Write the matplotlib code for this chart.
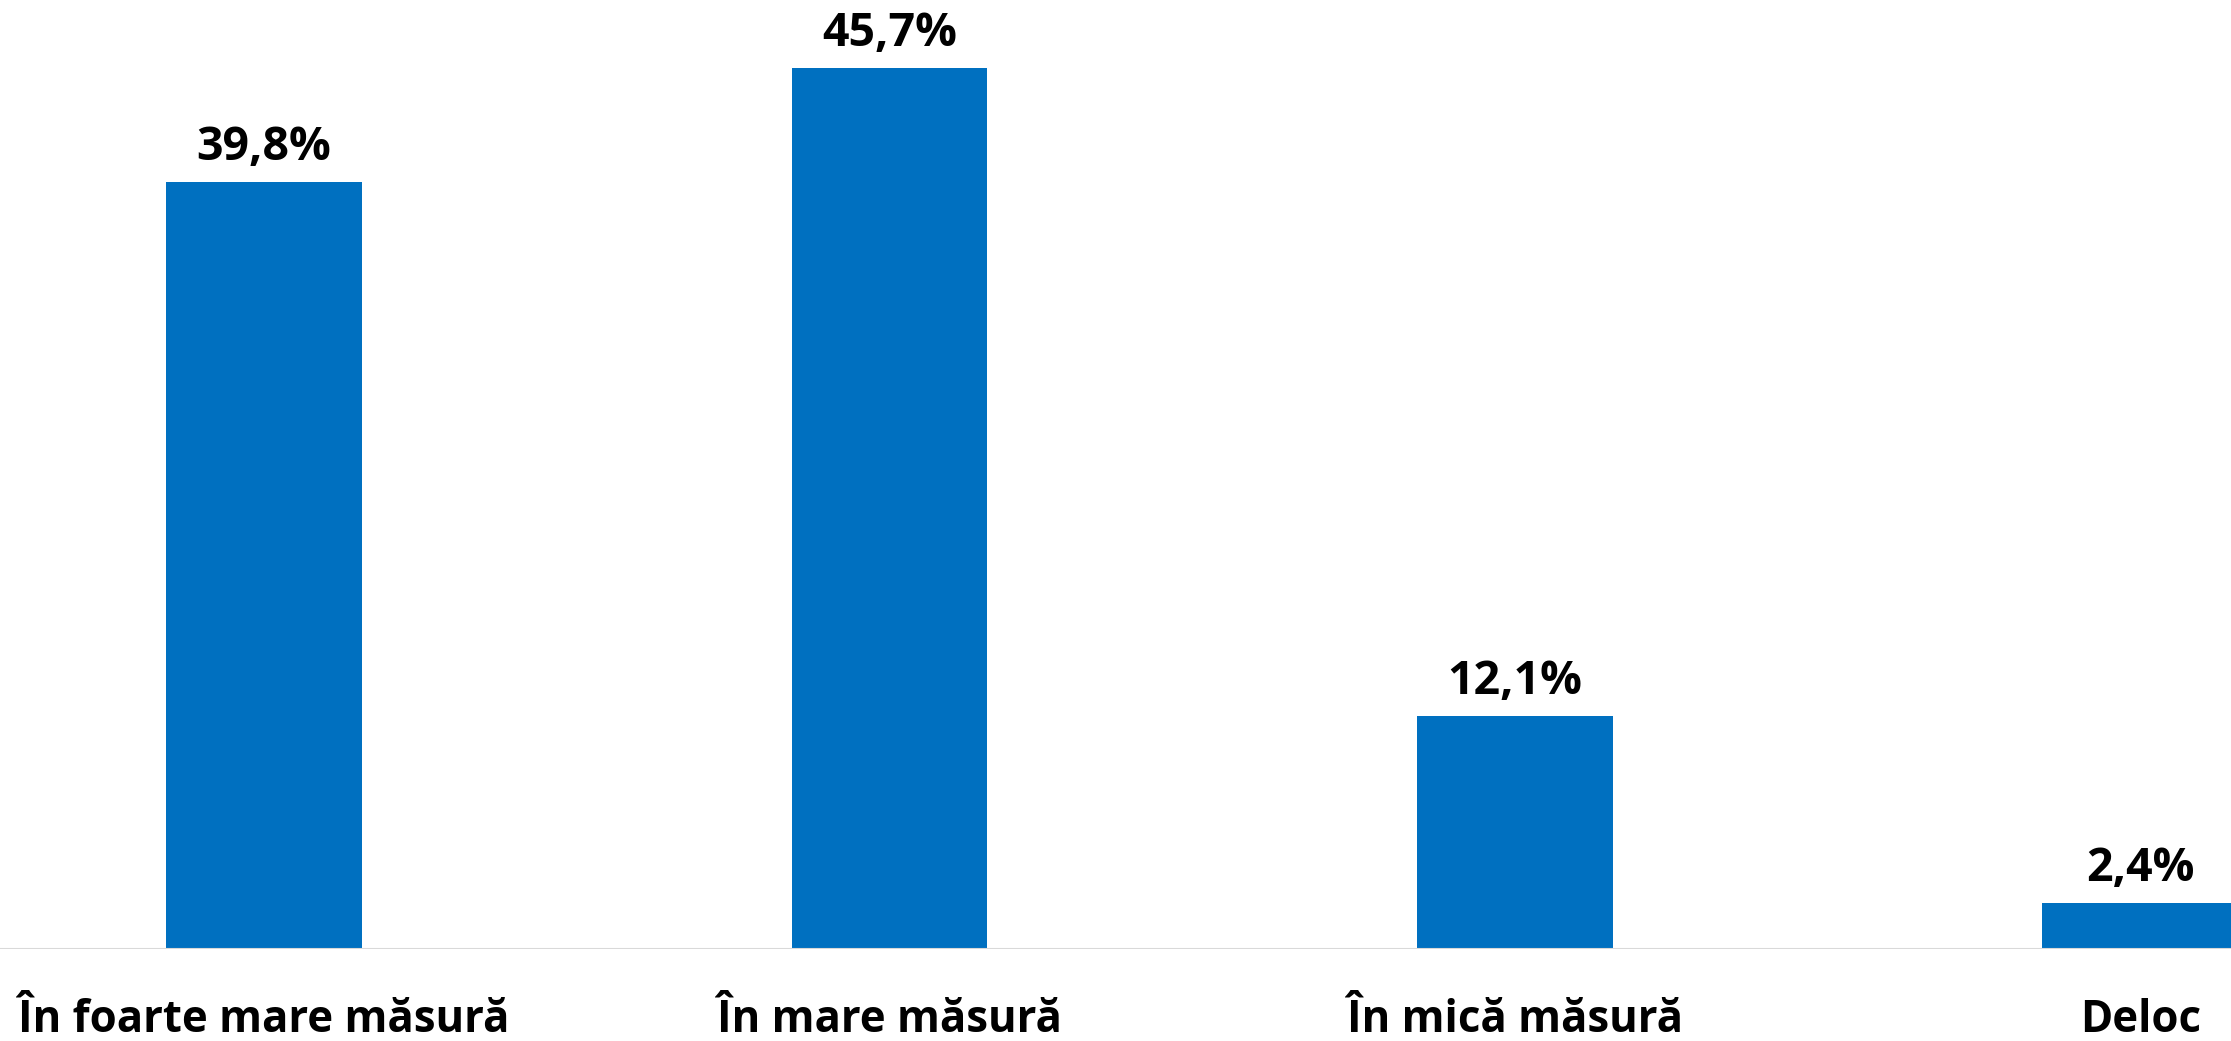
import matplotlib
matplotlib.use("Agg")
from matplotlib import pyplot as plt

categories = ["În foarte mare măsură", "În mare măsură", "În mică măsură", "Deloc"]
values = [39.8, 45.7, 12.1, 2.4]
value_labels = ["39,8%", "45,7%", "12,1%", "2,4%"]

plt.rcParams["font.family"] = ["Open Sans", "DejaVu Sans"]

W, H, DPI = 2231, 1041, 100
fig = plt.figure(figsize=(W / DPI, H / DPI), dpi=DPI)
base_px = 949
ax = fig.add_axes([0, (H - base_px) / H, 1, base_px / H])

x = list(range(len(categories)))
ax.bar(x, values, width=0.313, color="#0070C0", zorder=2)

ax.set_xlim(-0.422, 3.145)
ax.set_ylim(0, base_px / 19.27)

for xi, v, lab in zip(x, values, value_labels):
    ax.annotate(lab, (xi, v), xytext=(0, 22), textcoords="offset pixels",
                ha="center", va="baseline", fontsize=33.5, fontweight="bold",
                color="black")

for xi, cat in zip(x, categories):
    ax.annotate(cat, (xi, 0), xycoords=("data", "axes fraction"),
                xytext=(0, -83), textcoords="offset pixels",
                ha="center", va="baseline", fontsize=31.5, fontweight="bold",
                color="black", annotation_clip=False)

ax.axhline(0, color="#D9D9D9", linewidth=1.5, zorder=3)
for s in ax.spines.values():
    s.set_visible(False)
ax.set_xticks([])
ax.set_yticks([])

fig.savefig("out.png", dpi=DPI)
